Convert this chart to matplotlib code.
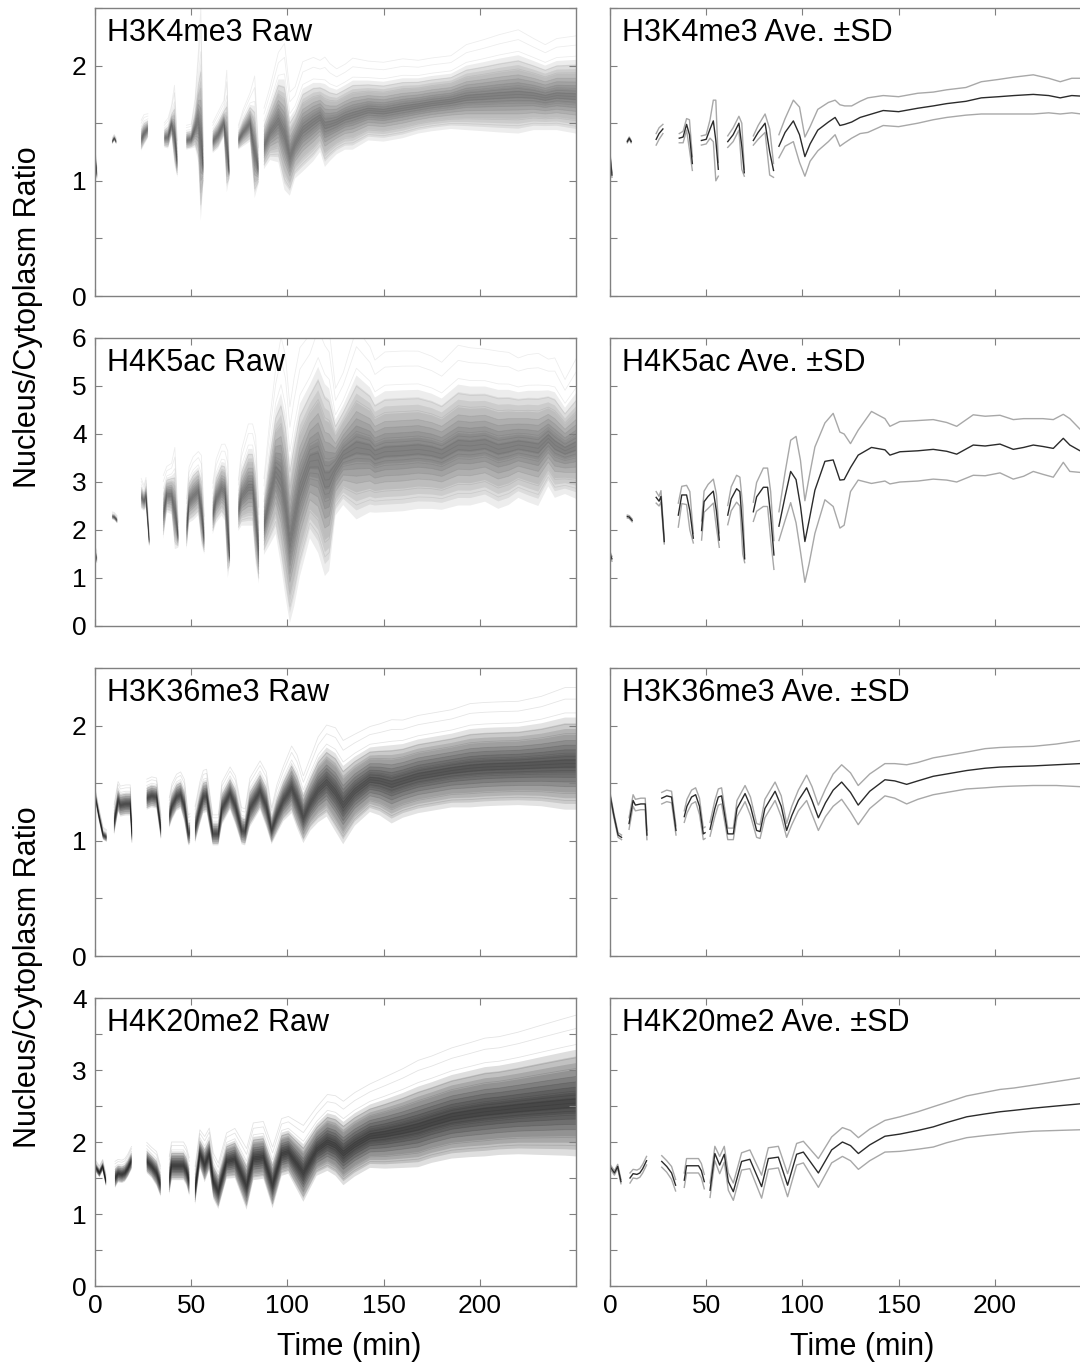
import matplotlib
matplotlib.use("Agg")
import matplotlib.pyplot as plt
import numpy as np

plt.rcParams['font.family'] = ['Liberation Sans', 'DejaVu Sans']

nan = np.nan

# ---- H3K4me3 : time (min), mean ratio, SD (read from the Ave.±SD panel) ----
k4_t = [0, 1, nan, 9, 10, 11, nan, 24, 25.5, 27.5, nan,
        36, 38, 39.8, 41.3, 42.8, nan, 47.5, 50, 52, 53.7, 55, 56.3, nan,
        61.2, 64, 67, 68.5, 69.8, nan, 74.5, 77, 80.6, 83, 85, nan,
        87.8, 91, 95.3, 98.5, 101.3, 104, 108, 113.5, 117, 119.5,
        122, 125.6, 130, 134, 142, 150, 160, 168, 175, 185,
        193, 202, 210, 220, 228, 234, 240, 250]
k4_mean = [1.22, 1.05, nan, 1.34, 1.37, 1.34, nan, 1.36, 1.41, 1.45, nan,
           1.37, 1.38, 1.49, 1.40, 1.15, nan, 1.35, 1.36, 1.45, 1.52, 1.35, 1.10, nan,
           1.34, 1.40, 1.50, 1.30, 1.07, nan, 1.35, 1.42, 1.50, 1.25, 1.09, nan,
           1.30, 1.42, 1.52, 1.40, 1.21, 1.32, 1.44, 1.51, 1.55, 1.48,
           1.49, 1.51, 1.55, 1.57, 1.61, 1.60, 1.63, 1.65, 1.67, 1.69,
           1.72, 1.73, 1.74, 1.75, 1.74, 1.72, 1.74, 1.73]
k4_sd = [0.02, 0.02, nan, 0.01, 0.01, 0.01, nan, 0.05, 0.05, 0.04, nan,
         0.04, 0.05, 0.05, 0.13, 0.06, nan, 0.04, 0.04, 0.08, 0.18, 0.35, 0.06, nan,
         0.05, 0.06, 0.06, 0.20, 0.03, nan, 0.04, 0.06, 0.08, 0.20, 0.06, nan,
         0.10, 0.12, 0.18, 0.24, 0.17, 0.15, 0.18, 0.17, 0.15, 0.18,
         0.16, 0.14, 0.14, 0.15, 0.13, 0.13, 0.13, 0.12, 0.12, 0.12,
         0.14, 0.15, 0.16, 0.17, 0.15, 0.14, 0.15, 0.16]

# ---- H4K5ac ----
k5_t = [0, 1, nan, 9, 10, 11.5, nan, 24, 25.5, 26.5, 28.2, nan,
        35.5, 37.3, 39.8, 41.5, 43.3, nan, 47.6, 48.9, 51, 53.7, 55.3, 56.8, nan,
        61.2, 63, 65.8, 67.5, 69, 70, nan, 74.5, 76.2, 79.7, 81.9, 83.5, 85.2, nan,
        87.8, 91, 93.9, 96.7, 99, 101.3, 103.5, 106.5, 111.7, 116,
        119.5, 121.7, 125, 129, 135.9, 142.9, 145.5, 150.7, 160, 168,
        175, 180.2, 188.8, 195, 202.7, 209.6, 215, 220, 225, 230.4,
        235.6, 239, 244.3, 250]
k5_mean = [1.5, 1.4, nan, 2.28, 2.27, 2.20, nan, 2.68, 2.60, 2.70, 1.76, nan,
           2.31, 2.73, 2.73, 2.40, 1.83, nan, 1.99, 2.59, 2.70, 2.81, 2.40, 1.79, nan,
           2.31, 2.65, 2.86, 2.80, 2.00, 1.40, nan, 2.38, 2.69, 2.89, 2.89, 2.30, 1.48, nan,
           2.08, 2.70, 3.22, 3.05, 2.50, 1.76, 2.20, 2.83, 3.43, 3.46,
           3.04, 3.05, 3.30, 3.56, 3.72, 3.67, 3.56, 3.63, 3.65, 3.68,
           3.64, 3.58, 3.77, 3.75, 3.79, 3.68, 3.72, 3.77, 3.74, 3.70,
           3.91, 3.77, 3.65, 3.75]
k5_sd = [0.05, 0.05, nan, 0.03, 0.03, 0.03, nan, 0.12, 0.10, 0.12, 0.05, nan,
         0.25, 0.18, 0.20, 0.40, 0.10, nan, 0.20, 0.22, 0.25, 0.25, 0.35, 0.15, nan,
         0.20, 0.25, 0.28, 0.30, 0.50, 0.08, nan, 0.20, 0.30, 0.40, 0.40, 0.50, 0.30, nan,
         0.30, 0.50, 0.65, 0.90, 0.95, 0.85, 0.90, 0.90, 0.80, 0.97,
         1.00, 0.95, 0.50, 0.52, 0.75, 0.65, 0.60, 0.63, 0.63, 0.62,
         0.60, 0.58, 0.63, 0.62, 0.60, 0.62, 0.60, 0.55, 0.58, 0.60,
         0.50, 0.55, 0.45, 0.55]

# ---- H3K36me3 ----
k36_t = [0, 2, 4.2, 6, nan, 9.9, 12, 13.2, 16, 18.3, 19.2, nan,
         26.9, 29.5, 32, 34.3, nan, 38.6, 40, 42.4, 44.5, 46.5, 48.5, 49.4, nan,
         52, 54.5, 56.3, 58, 61.2, 64.1, 66, 70.2, 73, 76.2,
         78, 80.5, 85.8, 89, 91.8, 94.5, 97.9, 102.2, 105, 108.3,
         112, 116, 120.4, 125, 129, 135, 142.9, 148, 154.2, 160,
         168, 175, 185.4, 195, 202.7, 210, 220, 232, 244.3, 250]
k36_mean = [1.40, 1.22, 1.05, 1.03, nan, 1.15, 1.35, 1.31, 1.32, 1.32, 1.05, nan,
            1.37, 1.39, 1.38, 1.09, nan, 1.21, 1.30, 1.38, 1.40, 1.30, 1.06, 1.07, nan,
            1.10, 1.28, 1.38, 1.39, 1.06, 1.06, 1.28, 1.41, 1.30, 1.09,
            1.08, 1.28, 1.43, 1.30, 1.09, 1.22, 1.35, 1.46, 1.35, 1.20,
            1.33, 1.44, 1.51, 1.42, 1.31, 1.43, 1.53, 1.52, 1.49, 1.52,
            1.56, 1.58, 1.61, 1.63, 1.64, 1.645, 1.65, 1.66, 1.67, 1.67]
k36_sd = [0.02, 0.02, 0.02, 0.02, nan, 0.05, 0.05, 0.05, 0.05, 0.05, 0.04, nan,
          0.05, 0.05, 0.05, 0.04, nan, 0.05, 0.06, 0.06, 0.06, 0.07, 0.05, 0.05, nan,
          0.06, 0.07, 0.07, 0.07, 0.05, 0.05, 0.07, 0.07, 0.08, 0.06,
          0.06, 0.08, 0.08, 0.09, 0.06, 0.08, 0.09, 0.11, 0.12, 0.11,
          0.12, 0.14, 0.15, 0.17, 0.17, 0.15, 0.14, 0.15, 0.17, 0.16,
          0.16, 0.16, 0.16, 0.17, 0.17, 0.17, 0.17, 0.18, 0.20, 0.20]

# ---- H4K20me2 ----
k20_t = [0, 2.3, 4, 5.7, nan, 10.4, 12, 14, 15.5, 17, 19, nan,
         26.9, 29.5, 32, 34.1, nan, 38.6, 39.8, 43, 46, 47.5, 49, nan,
         52, 54.5, 57, 59.4, 61.5, 64.1, 68.4, 72.7, 78.8, 82.3,
         87.5, 92.3, 97, 100.5, 108.3, 115.2, 120.8, 125, 129.1, 135,
         142.9, 150.7, 160, 168, 175, 185.4, 195, 202.7, 210, 220,
         232, 244.3, 250]
k20_mean = [1.66, 1.57, 1.66, 1.45, nan, 1.50, 1.56, 1.55, 1.57, 1.63, 1.74, nan,
            1.73, 1.66, 1.57, 1.40, nan, 1.47, 1.67, 1.67, 1.67, 1.60, 1.45, nan,
            1.33, 1.84, 1.68, 1.83, 1.45, 1.31, 1.73, 1.76, 1.38, 1.77,
            1.79, 1.40, 1.83, 1.86, 1.57, 1.89, 2.00, 1.95, 1.84, 1.96,
            2.08, 2.11, 2.16, 2.21, 2.27, 2.35, 2.39, 2.42, 2.44, 2.47,
            2.50, 2.53, 2.54]
k20_sd = [0.03, 0.03, 0.03, 0.03, nan, 0.07, 0.06, 0.06, 0.06, 0.06, 0.06, nan,
          0.08, 0.08, 0.09, 0.08, nan, 0.10, 0.10, 0.10, 0.10, 0.10, 0.10, nan,
          0.10, 0.10, 0.12, 0.11, 0.12, 0.12, 0.12, 0.13, 0.16, 0.15,
          0.15, 0.16, 0.15, 0.15, 0.20, 0.18, 0.20, 0.21, 0.22, 0.22,
          0.22, 0.24, 0.26, 0.28, 0.28, 0.29, 0.30, 0.31, 0.31, 0.32,
          0.34, 0.36, 0.37]

marks = ['H3K4me3', 'H4K5ac', 'H3K36me3', 'H4K20me2']
series = [(k4_t, k4_mean, k4_sd), (k5_t, k5_mean, k5_sd),
          (k36_t, k36_mean, k36_sd), (k20_t, k20_mean, k20_sd)]
y_max = [2.5, 6, 2.5, 4]
y_step = [0.5, 1, 0.5, 0.5]

# how dark the bundle of single-cell traces looks in each raw panel
raw_line_alpha = [0.07, 0.07, 0.10, 0.11]
raw_fill_alpha = [0.07, 0.07, 0.11, 0.13]

# offsets (in SD units) used to sketch the bundle of single-cell traces
raw_k = [-1.6, -1.3, -1.0, -0.8, -0.6, -0.45, -0.3, -0.15, 0.0, 0.15,
         0.3, 0.45, 0.6, 0.8, 1.0, 1.3, 1.7, 2.2, 2.8, 3.3]
band_k = [0.2, 0.4, 0.6, 0.8, 1.0, 1.25, 1.5, 1.75, 2.0]

W, H = 1080, 1365
fig = plt.figure(figsize=(W / 100, H / 100), dpi=100)

spine_col = '#808080'
ax_w = 481
ax_h = 288
col_left = [95, 610]
row_top = [8, 338, 668, 998]


def style(ax, ymax, ystep, show_y, show_x):
    ax.set_xlim(0, 250)
    ax.set_ylim(0, ymax)
    ax.set_xticks([0, 50, 100, 150, 200])
    yt = np.arange(0, ymax + 1e-9, ystep)
    ax.set_yticks(yt)
    if show_y:
        ax.set_yticklabels([f'{v:g}' if abs(v - round(v)) < 1e-9 else '' for v in yt])
    else:
        ax.set_yticklabels([])
    if not show_x:
        ax.set_xticklabels([])
    ax.tick_params(direction='in', top=True, right=True, length=5, width=0.8,
                   color=spine_col, labelsize=19, pad=6)
    for s in ax.spines.values():
        s.set_color(spine_col)
        s.set_linewidth(1.0)


for r in range(4):
    t, m, sd = (np.array(a, dtype=float) for a in series[r])
    if not (len(t) == len(m) == len(sd)):
        raise ValueError(f'length mismatch in {marks[r]}: {len(t)} {len(m)} {len(sd)}')
    bottom = 1 - (row_top[r] + ax_h) / H

    # raw traces
    ax1 = fig.add_axes([col_left[0] / W, bottom, ax_w / W, ax_h / H])
    for k in band_k:
        ax1.fill_between(t, m - k * sd, m + k * sd, color='black',
                         alpha=raw_fill_alpha[r], lw=0)
    for k in raw_k:
        ax1.plot(t, m + k * sd, color='black', lw=0.6, alpha=raw_line_alpha[r])
    style(ax1, y_max[r], y_step[r], True, r == 3)
    ax1.text(0.025, 0.965, f'{marks[r]} Raw', transform=ax1.transAxes,
             fontsize=22, va='top', ha='left')

    # average +/- SD
    ax2 = fig.add_axes([col_left[1] / W, bottom, ax_w / W, ax_h / H])
    ax2.plot(t, m + sd, color='#a8a8a8', lw=1.0)
    ax2.plot(t, m - sd, color='#a8a8a8', lw=1.0)
    ax2.plot(t, m, color='#2b2b2b', lw=1.0)
    style(ax2, y_max[r], y_step[r], False, r == 3)
    ax2.text(0.025, 0.965, f'{marks[r]} Ave. \u00b1SD', transform=ax2.transAxes,
             fontsize=22, va='top', ha='left')

# shared labels
for yc in [317, 977]:
    fig.text(28 / W, 1 - yc / H, 'Nucleus/Cytoplasm Ratio', rotation=90,
             fontsize=22, ha='center', va='center')
for xc in [349, 862]:
    fig.text(xc / W, 1 - 1347 / H, 'Time (min)', fontsize=22,
             ha='center', va='center')

fig.savefig('out.png', dpi=100, facecolor='white')
